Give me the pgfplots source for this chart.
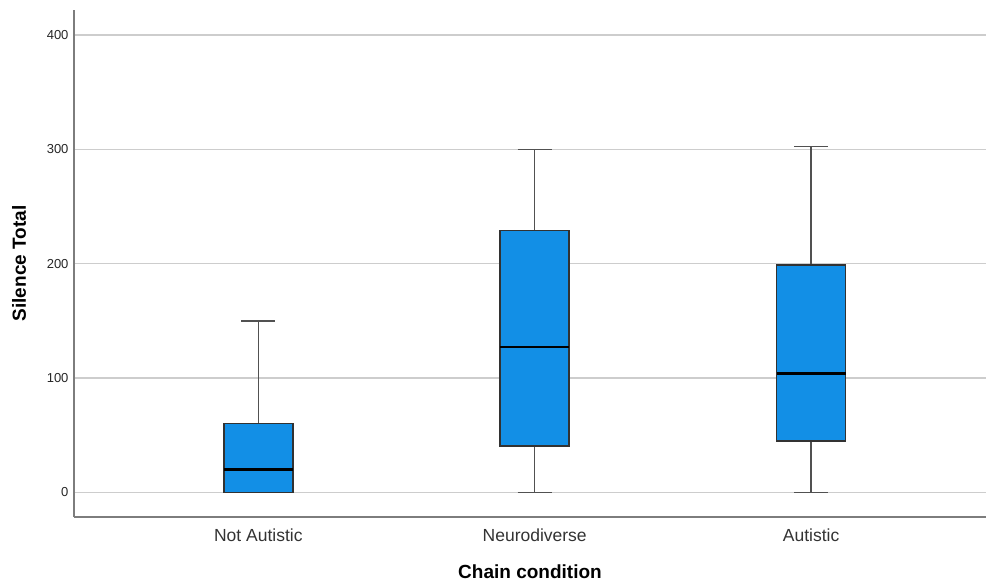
\documentclass[border=0pt]{standalone}
\usepackage{pgfplots}
\pgfplotsset{compat=1.18}
\usepgfplotslibrary{statistics}
\usepackage{fontspec}
\setmainfont{Liberation Sans}
\definecolor{boxblue}{RGB}{18,143,230}
\definecolor{gridgray}{RGB}{205,205,205}
\definecolor{axgray}{RGB}{125,125,125}
\definecolor{edge}{RGB}{50,50,50}
\begin{document}
\begin{tikzpicture}
\path[use as bounding box] (0,0) rectangle (986pt,582pt);
\begin{axis}[
  at={(74pt,65pt)}, anchor=south west,
  scale only axis, width=912pt, height=507pt,
  xmin=0.333, xmax=3.633, ymin=-21.6, ymax=421.9,
  axis x line*=bottom, axis y line*=left,
  axis line style={-, axgray, line width=1.3pt},
  xtick={1,2,3}, xticklabels={Not Autistic, Neurodiverse, Autistic},
  ytick={0,100,200,300,400},
  tick style={draw=none},
  ymajorgrids, grid style={gridgray, line width=1.5pt},
  /pgf/number format/assume math mode=true,
  yticklabel style={font=\fontsize{13}{15}\selectfont, text=black!85, xshift=-2pt},
  xticklabel style={font=\fontsize{17.5}{20}\selectfont, text=black!80, yshift=-8pt},
  xlabel={\textbf{Chain condition}},
  ylabel={\textbf{Silence Total}},
  label style={font=\fontsize{19}{22}\selectfont},
  xlabel style={at={(axis description cs:0.5,0)}, anchor=base, yshift=-61pt},
  ylabel style={at={(axis description cs:0,0.5)}, anchor=base, yshift=48pt},
  boxplot/draw direction=y,
  boxplot/box extend=0.25,
  boxplot/whisker extend=0.123,
  boxplot/every box/.style={draw=edge, fill=boxblue, line width=1.5pt},
  boxplot/every whisker/.style={draw=edge!85, line width=1.5pt},
  boxplot/every median/.style={draw=black, line width=2.4pt},
]
\addplot+[boxplot prepared={draw position=1, lower whisker=0, lower quartile=0, median=20, upper quartile=60, upper whisker=150}, solid, draw=edge, mark=none] coordinates {};
\addplot+[boxplot prepared={draw position=2, lower whisker=0, lower quartile=40.5, median=127, upper quartile=229, upper whisker=300}, solid, draw=edge, mark=none] coordinates {};
\addplot+[boxplot prepared={draw position=3, lower whisker=0, lower quartile=45, median=104, upper quartile=198.7, upper whisker=302.7}, solid, draw=edge, mark=none] coordinates {};
\end{axis}
\end{tikzpicture}
\end{document}
